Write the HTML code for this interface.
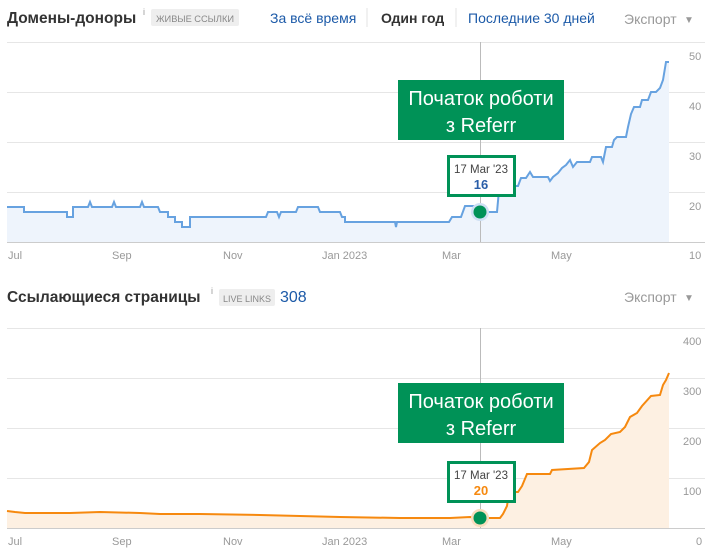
<!DOCTYPE html>
<html><head><meta charset="utf-8"><style>
html,body{margin:0;padding:0;background:#fff;}
svg{display:block;font-family:"Liberation Sans",Arial,sans-serif;}
</style></head><body>
<svg width="711" height="556" viewBox="0 0 711 556" xmlns="http://www.w3.org/2000/svg">
<text x="7" y="23" font-size="15.5" font-weight="bold" fill="#333">Домены-доноры</text>
<text x="143" y="15" font-size="9" fill="#999">i</text>
<rect x="151" y="9" width="88" height="17" rx="2" fill="#eee"/>
<text x="156" y="22" font-size="9.5" fill="#888" textLength="78" lengthAdjust="spacingAndGlyphs">ЖИВЫЕ ССЫЛКИ</text>
<text x="270" y="23" font-size="14" fill="#1c5aa8">За всё время</text>
<line x1="367" y1="8" x2="367" y2="27" stroke="#e3e3e3"/>
<text x="381" y="23" font-size="14" font-weight="bold" fill="#333">Один год</text>
<line x1="456" y1="8" x2="456" y2="27" stroke="#e3e3e3"/>
<text x="468" y="23" font-size="14" fill="#1c5aa8">Последние 30 дней</text>
<text x="624" y="24" font-size="14" fill="#999">Экспорт</text>
<text x="684" y="23" font-size="10" fill="#999">▼</text>

<g stroke="#e6e6e6" stroke-width="1">
<line x1="7" y1="42.5" x2="705" y2="42.5"/><line x1="7" y1="92.5" x2="705" y2="92.5"/>
<line x1="7" y1="142.5" x2="705" y2="142.5"/><line x1="7" y1="192.5" x2="705" y2="192.5"/>
</g>
<line x1="7" y1="242.5" x2="705" y2="242.5" stroke="#ccc"/>
<g stroke="#ccc"><line x1="7.5" y1="237" x2="7.5" y2="242"/><line x1="122.5" y1="237" x2="122.5" y2="242"/><line x1="233.5" y1="237" x2="233.5" y2="242"/><line x1="345.5" y1="237" x2="345.5" y2="242"/><line x1="451.5" y1="237" x2="451.5" y2="242"/><line x1="562.5" y1="237" x2="562.5" y2="242"/></g>
<g font-size="11" fill="#999">
<text x="689" y="60">50</text><text x="689" y="110">40</text><text x="689" y="160">30</text><text x="689" y="210">20</text><text x="689" y="259">10</text>
<text x="8" y="259">Jul</text><text x="112" y="259">Sep</text><text x="223" y="259">Nov</text><text x="322" y="259">Jan 2023</text><text x="442" y="259">Mar</text><text x="551" y="259">May</text>
</g>
<polygon fill="#eef4fc" points="7,207 24,207 24,212 67,212 67,217 73,217 73,207 88,207 90,202 92,207 112,207 114,202 116,207 140,207 142,202 144,207 158,207 160,212 168,212 168,217 175,217 175,222 182,222 182,227 190,227 190,217 266,217 268,212 277,212 279,217 281,212 296,212 298,207 318,207 320,212 340,212 342,217 345,217 345,222 395,222 396,227 397,222 449,222 452,217 461,217 465,206 480,206 485,212 497,212 499,190 503,186 518,186 521,178 526,178 530,172 533,177 548,177 550,181 553,177 558,173 562,168 566,165 570,160 573,167 577,162 590,162 592,157 601,157 603,162 606,147 612,147 614,140 617,137 626,137 628,127 631,114 634,107 640,107 642,100 648,100 651,92 656,92 660,88 663,80 666,62 669,62 669,242 7,242"/>
<polyline fill="none" stroke="#67a2e0" stroke-width="2" points="7,207 24,207 24,212 67,212 67,217 73,217 73,207 88,207 90,202 92,207 112,207 114,202 116,207 140,207 142,202 144,207 158,207 160,212 168,212 168,217 175,217 175,222 182,222 182,227 190,227 190,217 266,217 268,212 277,212 279,217 281,212 296,212 298,207 318,207 320,212 340,212 342,217 345,217 345,222 395,222 396,227 397,222 449,222 452,217 461,217 465,206 480,206 485,212 497,212 499,190 503,186 518,186 521,178 526,178 530,172 533,177 548,177 550,181 553,177 558,173 562,168 566,165 570,160 573,167 577,162 590,162 592,157 601,157 603,162 606,147 612,147 614,140 617,137 626,137 628,127 631,114 634,107 640,107 642,100 648,100 651,92 656,92 660,88 663,80 666,62 669,62"/>
<line x1="480.5" y1="42" x2="480.5" y2="242" stroke="#bbb"/>
<rect x="398" y="80" width="166" height="60" fill="#009257"/>
<text x="481" y="105" font-size="20" fill="#fff" text-anchor="middle">Початок роботи</text>
<text x="481" y="132" font-size="20" fill="#fff" text-anchor="middle">з Referr</text>
<rect x="448.5" y="156.5" width="66" height="39" fill="#fff" stroke="#009257" stroke-width="3"/>
<text x="481" y="173" font-size="11.5" fill="#444" text-anchor="middle">17 Mar '23</text>
<text x="481" y="189" font-size="13" font-weight="bold" fill="#2a5ea8" text-anchor="middle">16</text>
<circle cx="480" cy="212" r="9" fill="#cfe0f4"/>
<circle cx="480" cy="212" r="6.5" fill="#009257"/>

<text x="7" y="302" font-size="15.5" font-weight="bold" fill="#333">Ссылающиеся страницы</text>
<text x="211" y="294" font-size="9" fill="#999">i</text>
<rect x="219" y="289" width="56" height="17" rx="2" fill="#eee"/>
<text x="223" y="302" font-size="9.5" fill="#888" textLength="48" lengthAdjust="spacingAndGlyphs">LIVE LINKS</text>
<text x="280" y="302" font-size="16" fill="#1c5aa8">308</text>
<text x="624" y="302" font-size="14" fill="#999">Экспорт</text>
<text x="684" y="301" font-size="10" fill="#999">▼</text>

<g stroke="#e6e6e6"><line x1="7" y1="328.5" x2="705" y2="328.5"/><line x1="7" y1="378.5" x2="705" y2="378.5"/><line x1="7" y1="428.5" x2="705" y2="428.5"/><line x1="7" y1="478.5" x2="705" y2="478.5"/></g>
<line x1="7" y1="528.5" x2="705" y2="528.5" stroke="#ccc"/>
<g stroke="#ccc"><line x1="7.5" y1="523" x2="7.5" y2="528"/><line x1="122.5" y1="523" x2="122.5" y2="528"/><line x1="233.5" y1="523" x2="233.5" y2="528"/><line x1="345.5" y1="523" x2="345.5" y2="528"/><line x1="451.5" y1="523" x2="451.5" y2="528"/><line x1="562.5" y1="523" x2="562.5" y2="528"/></g>
<g font-size="11" fill="#999">
<text x="683" y="345">400</text><text x="683" y="395">300</text><text x="683" y="445">200</text><text x="683" y="495">100</text><text x="696" y="545">0</text>
<text x="8" y="545">Jul</text><text x="112" y="545">Sep</text><text x="223" y="545">Nov</text><text x="322" y="545">Jan 2023</text><text x="442" y="545">Mar</text><text x="551" y="545">May</text>
</g>
<polygon fill="#fdf0e2" points="7,511 15,512 25,513 70,513 100,512 140,513 160,514 200,514 260,515 300,516 340,517 400,518 450,518 470,517 480,518 500,518 503,514 507,506 509,492 518,492 522,486 527,474 550,474 552,470 584,468 589,462 592,450 600,443 605,440 611,434 620,432 625,427 630,417 637,413 642,406 651,396 660,395 663,385 666,380 669,373 669,528 7,528"/>
<polyline fill="none" stroke="#f6890f" stroke-width="2" points="7,511 15,512 25,513 70,513 100,512 140,513 160,514 200,514 260,515 300,516 340,517 400,518 450,518 470,517 480,518 500,518 503,514 507,506 509,492 518,492 522,486 527,474 550,474 552,470 584,468 589,462 592,450 600,443 605,440 611,434 620,432 625,427 630,417 637,413 642,406 651,396 660,395 663,385 666,380 669,373"/>
<line x1="480.5" y1="328" x2="480.5" y2="528" stroke="#bbb"/>
<rect x="398" y="383" width="166" height="60" fill="#009257"/>
<text x="481" y="408" font-size="20" fill="#fff" text-anchor="middle">Початок роботи</text>
<text x="481" y="435" font-size="20" fill="#fff" text-anchor="middle">з Referr</text>
<rect x="448.5" y="462.5" width="66" height="39" fill="#fff" stroke="#009257" stroke-width="3"/>
<text x="481" y="479" font-size="11.5" fill="#444" text-anchor="middle">17 Mar '23</text>
<text x="481" y="495" font-size="13" font-weight="bold" fill="#f6890f" text-anchor="middle">20</text>
<circle cx="480" cy="518" r="9" fill="#f8dcbc"/>
<circle cx="480" cy="518" r="6.5" fill="#009257"/>
</svg>
</body></html>
